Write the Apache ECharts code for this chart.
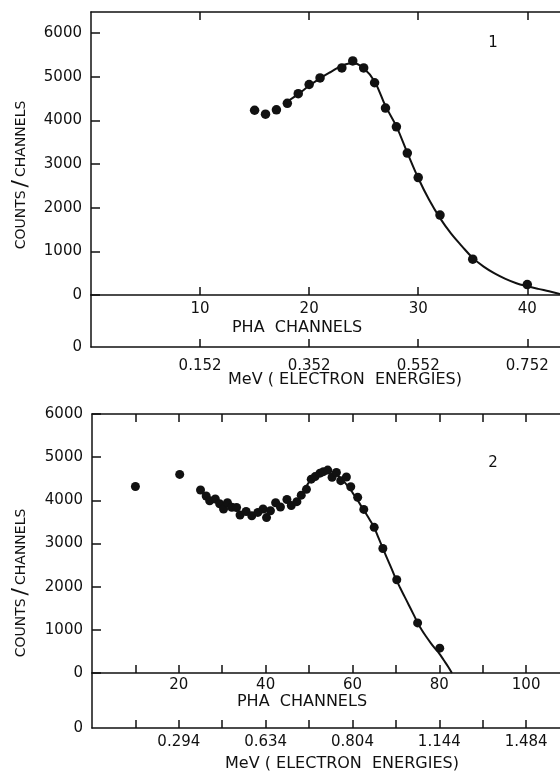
<!DOCTYPE html>
<html>
<head>
<meta charset="utf-8">
<title>PHA spectra</title>
<script src="https://cdn.jsdelivr.net/npm/echarts@6/dist/echarts.min.js"></script>
<style>
  html, body { margin: 0; padding: 0; background: #fff; }
  #chart { width: 560px; height: 773px; }
</style>
</head>
<body>
<div id="chart"></div>
<script>
// ---- Spectrum 1 ----
const spec1Channels = [15, 16, 17, 18, 19, 20, 21, 23, 24, 25, 26, 27, 28, 29, 30, 32, 35, 40];
const spec1Counts   = [4230, 4140, 4240, 4390, 4610, 4820, 4970, 5200, 5360, 5200, 4860, 4280, 3850, 3250, 2690, 1830, 820, 240];
const fit1Channels  = [18, 19, 20, 21, 22, 23, 24, 25, 26, 27, 28, 29, 30, 31, 32, 33, 34, 35, 36, 37, 38, 39, 40, 41, 42, 43];
const fit1Counts    = [4430, 4600, 4790, 4960, 5110, 5250, 5310, 5190, 4890, 4330, 3860, 3260, 2680, 2180, 1760, 1410, 1120, 850, 650, 495, 370, 270, 200, 140, 85, 25];

// ---- Spectrum 2 ----
const spec2Channels = [10.0, 20.2, 25.0, 26.3, 27.1, 28.4, 29.4, 30.3, 31.2, 32.2, 33.3, 34.1, 35.5, 36.8, 38.2, 39.4, 40.2, 41.1, 42.3, 43.4, 44.9, 45.9, 47.2, 48.2, 49.4, 50.5, 51.4, 52.5, 53.3, 54.3, 55.3, 56.3, 57.3, 58.6, 59.6, 61.2, 62.6, 65.0, 67.0, 70.2, 75.0, 80.1];
const spec2Counts   = [4320, 4600, 4240, 4100, 3990, 4030, 3920, 3800, 3945, 3840, 3835, 3660, 3740, 3640, 3720, 3800, 3600, 3760, 3945, 3845, 4020, 3880, 3970, 4120, 4255, 4490, 4550, 4630, 4665, 4700, 4535, 4645, 4455, 4540, 4315, 4070, 3790, 3375, 2885, 2160, 1160, 575];
const fit2Channels  = [48, 49, 50, 51, 52, 53, 54, 55, 56, 57, 58, 59, 60, 61, 62, 63, 64, 65, 66, 67, 68, 69, 70, 71, 72, 73, 74, 75, 76, 77, 78, 79, 80, 81, 82, 82.9];
const fit2Counts    = [4110, 4260, 4420, 4540, 4620, 4670, 4690, 4670, 4620, 4540, 4440, 4320, 4180, 4030, 3870, 3710, 3545, 3370, 3130, 2890, 2650, 2420, 2180, 1970, 1770, 1570, 1370, 1165, 990, 840, 700, 570, 450, 300, 150, 0];

// ---- Axis ticks and labels ----
const yTickValues  = [0, 1000, 2000, 3000, 4000, 5000, 6000];
const pha1Ticks    = [10, 20, 30, 40];
const pha1Labels   = ['10', '20', '30', '40'];
const mev1Labels   = ['0.152', '0.352', '0.552', '0.752'];
const pha2Ticks    = [10, 20, 30, 40, 50, 60, 70, 80, 90, 100];
const pha2LabelAt  = [20, 40, 60, 80, 100];
const pha2Labels   = ['20', '40', '60', '80', '100'];
const mev2Labels   = ['0.294', '0.634', '0.804', '1.144', '1.484'];

const FONT = 'DejaVu Sans';
const INK = '#111';

const zip = (xs, ys) => xs.map((x, i) => [x, ys[i]]);

const line = { show: true, lineStyle: { color: INK, width: 1.5 } };

function xAxisDef(gridIndex, position, max, tickVals, labelVals, labelTexts, margin) {
  return {
    type: 'value', gridIndex, position, min: 0, max,
    axisLine: Object.assign({ onZero: false }, line),
    axisTick: { show: true, inside: true, length: 8, customValues: tickVals, lineStyle: { color: INK, width: 1.5 } },
    axisLabel: labelVals ? {
      show: true, customValues: labelVals, margin,
      color: INK, fontFamily: FONT, fontSize: 15,
      formatter: v => { const i = labelVals.indexOf(v); return i >= 0 ? labelTexts[i] : ''; }
    } : { show: false },
    splitLine: { show: false }
  };
}

function yMainDef(gridIndex, max) {
  return {
    type: 'value', gridIndex, min: 0, max,
    axisLine: line,
    axisTick: { show: true, inside: true, length: 9, customValues: yTickValues, lineStyle: { color: INK, width: 1.5 } },
    axisLabel: { show: true, customValues: yTickValues, margin: 9, color: INK, fontFamily: FONT, fontSize: 15, formatter: v => String(v) },
    splitLine: { show: false }
  };
}

function yStripDef(gridIndex) {
  return {
    type: 'value', gridIndex, min: 0, max: 1,
    axisLine: line,
    axisTick: { show: false },
    axisLabel: { show: true, customValues: [0], margin: 9, color: INK, fontFamily: FONT, fontSize: 15, formatter: () => '0' },
    splitLine: { show: false }
  };
}

const X1MAX = 43;
const X2MAX = 107.8;

const titleFont = '16px "DejaVu Sans"';
const yTitleRich = {
  a: { fontFamily: FONT, fontSize: 14, fill: INK, color: INK },
  s: { fontFamily: FONT, fontSize: 22, fill: INK, color: INK, padding: [0, 3, 0, 3] }
};

const option = {
  animation: false,
  backgroundColor: '#fff',
  grid: [
    { left: 91, right: 0, top: 12, height: 283 },
    { left: 91, right: 0, top: 295, height: 52 },
    { left: 92, right: 0, top: 414, height: 259 },
    { left: 92, right: 0, top: 673, height: 55 }
  ],
  xAxis: [
    xAxisDef(0, 'bottom', X1MAX, pha1Ticks, pha1Ticks, pha1Labels, 7),
    xAxisDef(0, 'top', X1MAX, pha1Ticks, null, null, 0),
    xAxisDef(1, 'bottom', X1MAX, pha1Ticks, pha1Ticks, mev1Labels, 12),
    xAxisDef(2, 'bottom', X2MAX, pha2Ticks, pha2LabelAt, pha2Labels, 5),
    xAxisDef(2, 'top', X2MAX, pha2Ticks, null, null, 0),
    xAxisDef(3, 'bottom', X2MAX, pha2Ticks, pha2LabelAt, mev2Labels, 7)
  ],
  yAxis: [
    yMainDef(0, 6480),
    yStripDef(1),
    yMainDef(2, 6000),
    yStripDef(3)
  ],
  series: [
    {
      type: 'line', xAxisIndex: 0, yAxisIndex: 0, data: zip(fit1Channels, fit1Counts),
      smooth: 0.4, showSymbol: false, lineStyle: { color: INK, width: 2 }, z: 2
    },
    {
      type: 'scatter', xAxisIndex: 0, yAxisIndex: 0, data: zip(spec1Channels, spec1Counts),
      symbolSize: 9.5, itemStyle: { color: INK, opacity: 1 }, z: 3
    },
    {
      type: 'line', xAxisIndex: 3, yAxisIndex: 2, data: zip(fit2Channels, fit2Counts),
      smooth: 0.4, showSymbol: false, lineStyle: { color: INK, width: 2 }, z: 2
    },
    {
      type: 'scatter', xAxisIndex: 3, yAxisIndex: 2, data: zip(spec2Channels, spec2Counts),
      symbolSize: 9, itemStyle: { color: INK, opacity: 1 }, z: 3
    }
  ],
  graphic: [
    // axis titles
    { type: 'text', x: 297, y: 328, style: { text: 'PHA  CHANNELS', fill: INK, font: titleFont, align: 'center', verticalAlign: 'middle' } },
    { type: 'text', x: 345, y: 380, style: { text: 'MeV ( ELECTRON  ENERGIES)', fill: INK, font: titleFont, align: 'center', verticalAlign: 'middle' } },
    { type: 'text', x: 302, y: 702, style: { text: 'PHA  CHANNELS', fill: INK, font: titleFont, align: 'center', verticalAlign: 'middle' } },
    { type: 'text', x: 342, y: 764, style: { text: 'MeV ( ELECTRON  ENERGIES)', fill: INK, font: titleFont, align: 'center', verticalAlign: 'middle' } },
    // vertical titles
    { type: 'text', x: 21, y: 175, rotation: Math.PI / 2, style: {
        text: '{a|COUNTS}{s|/}{a|CHANNELS}', align: 'center', verticalAlign: 'middle', rich: yTitleRich } },
    { type: 'text', x: 21, y: 583, rotation: Math.PI / 2, style: {
        text: '{a|COUNTS}{s|/}{a|CHANNELS}', align: 'center', verticalAlign: 'middle', rich: yTitleRich } },
    // panel numbers
    { type: 'text', x: 493, y: 43, style: { text: '1', fill: INK, font: '15px "DejaVu Sans"', align: 'center', verticalAlign: 'middle' } },
    { type: 'text', x: 493, y: 463, style: { text: '2', fill: INK, font: '15px "DejaVu Sans"', align: 'center', verticalAlign: 'middle' } }
  ]
};

const chart = echarts.init(document.getElementById('chart'), null, { renderer: 'canvas' });
chart.setOption(option);
</script>
</body>
</html>
